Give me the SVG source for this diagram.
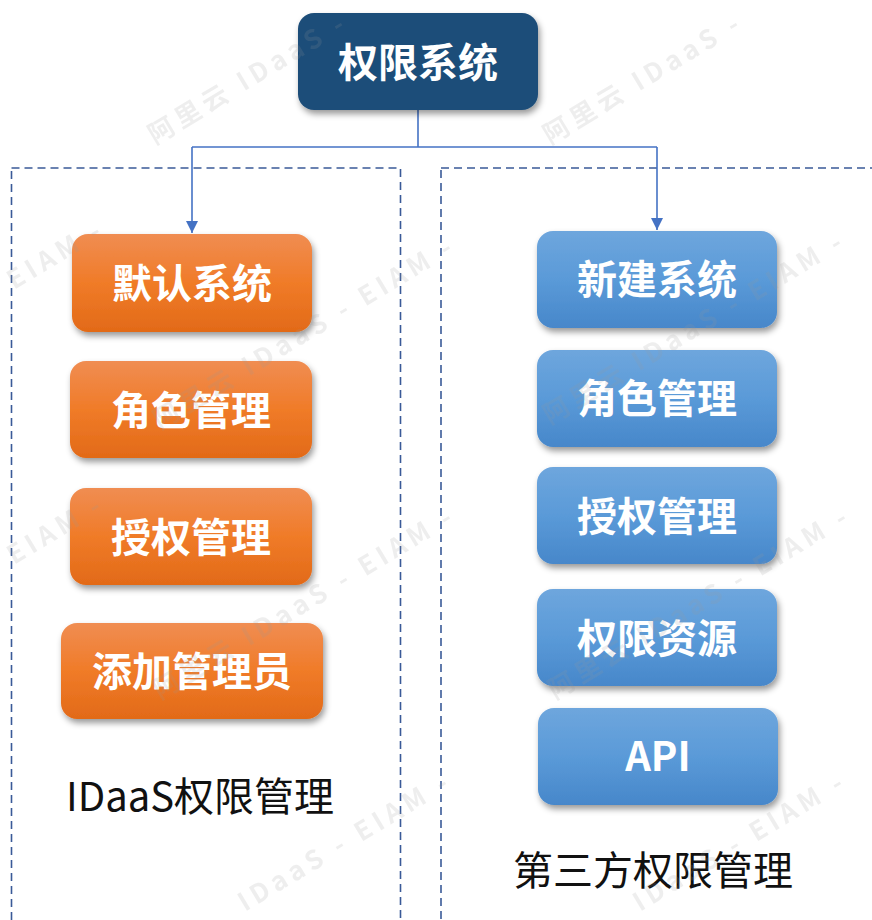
<svg xmlns="http://www.w3.org/2000/svg" width="872" height="920" viewBox="0 0 872 920">
<style>
.nt{font-family:"Noto Sans CJK SC","Liberation Sans",sans-serif;font-size:40px;font-weight:bold;fill:#fff;text-anchor:middle}
.lb{font-family:"Noto Sans CJK SC","Noto Sans",sans-serif;font-size:40px;font-weight:400;fill:#111;text-anchor:middle}
.grp{fill:none;stroke:#3A5A98;stroke-width:1.6;stroke-dasharray:8 5}
.con{fill:none;stroke:#4472C4;stroke-width:1.6}
.wm{font-family:"Noto Sans CJK SC","Liberation Sans",sans-serif;font-size:26px;font-weight:bold;fill:#9a9a9a;opacity:0.16;letter-spacing:5px}
</style>
<defs>
<linearGradient id="og" x1="0" y1="0" x2="0" y2="1">
<stop offset="0" stop-color="#F08D52"/>
<stop offset="0.5" stop-color="#F07B28"/>
<stop offset="1" stop-color="#E26A18"/>
</linearGradient>
<linearGradient id="bg" x1="0" y1="0" x2="0" y2="1">
<stop offset="0" stop-color="#6EA6DD"/>
<stop offset="0.5" stop-color="#5A9AD8"/>
<stop offset="1" stop-color="#4787CA"/>
</linearGradient>
<filter id="sh" x="-10%" y="-10%" width="125%" height="135%">
<feDropShadow dx="2" dy="4" stdDeviation="3" flood-color="#000" flood-opacity="0.4"/>
</filter>
<marker id="ar" viewBox="0 0 12 12" refX="12" refY="6" markerWidth="12" markerHeight="12" markerUnits="userSpaceOnUse" orient="auto">
<path d="M0,0 L12,6 L0,12 z" fill="#4472C4"/>
</marker>
</defs>
<rect width="872" height="920" fill="#fff"/>

<g id="groups">
<rect class="grp" x="11.5" y="168" width="389" height="780"/>
<rect class="grp" x="441" y="168" width="460" height="780"/>
</g>

<g id="connectors">
<path class="con" d="M418,110 V147"/>
<path class="con" d="M192,147 H657"/>
<path class="con" d="M192,147 V233" marker-end="url(#ar)"/>
<path class="con" d="M657,147 V230" marker-end="url(#ar)"/>
</g>

<g id="root">
<rect x="298" y="13" width="240" height="97" rx="16" fill="#1F4E79" filter="url(#sh)"/>
<text class="nt" x="418" y="77">权限系统</text>
</g>

<g id="left-1"><rect x="72" y="234" width="240" height="98" rx="16" fill="url(#og)" filter="url(#sh)"/><text class="nt" x="192" y="298">默认系统</text></g>
<g id="left-2"><rect x="70" y="361" width="242" height="97" rx="16" fill="url(#og)" filter="url(#sh)"/><text class="nt" x="191" y="425">角色管理</text></g>
<g id="left-3"><rect x="70" y="488" width="242" height="97" rx="16" fill="url(#og)" filter="url(#sh)"/><text class="nt" x="191" y="552">授权管理</text></g>
<g id="left-4"><rect x="61" y="623" width="262" height="96" rx="16" fill="url(#og)" filter="url(#sh)"/><text class="nt" x="192" y="686">添加管理员</text></g>

<g id="right-1"><rect x="537" y="231" width="240" height="97" rx="16" fill="url(#bg)" filter="url(#sh)"/><text class="nt" x="657" y="294">新建系统</text></g>
<g id="right-2"><rect x="537" y="350" width="240" height="97" rx="16" fill="url(#bg)" filter="url(#sh)"/><text class="nt" x="657" y="413">角色管理</text></g>
<g id="right-3"><rect x="537" y="467" width="240" height="97" rx="16" fill="url(#bg)" filter="url(#sh)"/><text class="nt" x="657" y="531">授权管理</text></g>
<g id="right-4"><rect x="537" y="589" width="240" height="97" rx="16" fill="url(#bg)" filter="url(#sh)"/><text class="nt" x="657" y="653">权限资源</text></g>
<g id="right-5"><rect x="538" y="708" width="240" height="97" rx="16" fill="url(#bg)" filter="url(#sh)"/><text class="nt" x="658" y="771">API</text></g>

<g id="labels">
<text class="lb" x="200" y="811">IDaaS权限管理</text>
<text class="lb" x="653" y="885">第三方权限管理</text>
</g>

<g id="watermark">
<text class="wm" transform="translate(155,145) rotate(-31)">阿里云 IDaaS -</text>
<text class="wm" transform="translate(550,145) rotate(-31)">阿里云 IDaaS -</text>
<text class="wm" transform="translate(14,290) rotate(-31)">EIAM -</text>
<text class="wm" transform="translate(160,430) rotate(-31)">阿里云 IDaaS - EIAM -</text>
<text class="wm" transform="translate(550,425) rotate(-31)">阿里云 IDaaS - EIAM -</text>
<text class="wm" transform="translate(14,565) rotate(-31)">EIAM -</text>
<text class="wm" transform="translate(160,700) rotate(-31)">阿里云 IDaaS - EIAM -</text>
<text class="wm" transform="translate(555,700) rotate(-31)">阿里云 IDaaS - EIAM -</text>
<text class="wm" transform="translate(245,912) rotate(-31)">IDaaS - EIAM -</text>
<text class="wm" transform="translate(640,912) rotate(-31)">IDaaS - EIAM -</text>
</g>
</svg>
